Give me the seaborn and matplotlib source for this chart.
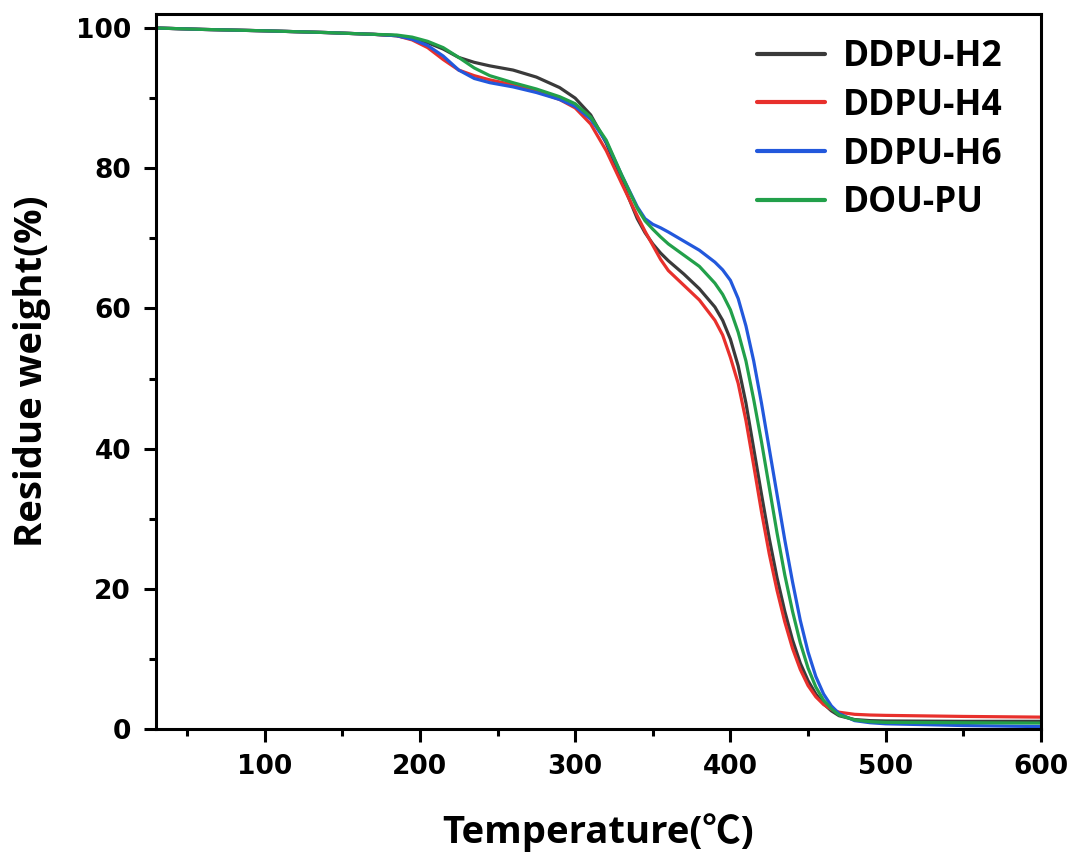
import numpy as np
import pandas as pd
import matplotlib
matplotlib.use("Agg")
import matplotlib.pyplot as plt
import seaborn as sns
from matplotlib.ticker import MultipleLocator

# Temperature grid (deg C) and residue weight (%)
temps = [30, 60, 100, 140, 170, 185, 195, 205, 215, 225, 235, 245, 260, 275,
         290, 300, 310, 320, 330, 340, 345, 350, 355, 360, 370, 380, 390, 395,
         400, 405, 410, 415, 420, 425, 430, 435, 440, 445, 450, 455, 460, 465,
         470, 480, 490, 500, 550, 600]

ddpu_h2 = [100, 99.8, 99.6, 99.35, 99.1, 98.9, 98.5, 97.9, 97.0, 95.8, 95.1,
           94.6, 94.0, 93.0, 91.5, 90.0, 87.6, 83.6, 78.2, 72.8, 70.8, 69.2,
           67.9, 66.8, 64.9, 62.8, 60.2, 58.3, 55.6, 51.8, 46.5, 40.0, 33.5,
           27.2, 21.6, 16.8, 12.7, 9.4, 6.9, 5.0, 3.6, 2.6, 1.9, 1.35, 1.2,
           1.15, 1.1, 1.1]

ddpu_h4 = [100, 99.8, 99.6, 99.35, 99.1, 98.9, 98.3, 97.2, 95.5, 94.0, 93.2,
           92.6, 91.9, 91.0, 89.8, 88.6, 86.3, 82.5, 77.8, 73.2, 71.0, 69.0,
           67.0, 65.4, 63.3, 61.2, 58.3, 56.2, 53.0, 49.3, 44.0, 37.6, 31.0,
           25.0, 19.8, 15.3, 11.5, 8.5, 6.2, 4.6, 3.5, 2.8, 2.4, 2.1, 2.0,
           1.95, 1.8, 1.7]

ddpu_h6 = [100, 99.8, 99.6, 99.35, 99.1, 98.9, 98.4, 97.5, 96.0, 94.0, 92.8,
           92.2, 91.6, 90.8, 89.8, 88.8, 87.0, 83.8, 79.0, 74.5, 72.8, 72.0,
           71.5, 70.9, 69.6, 68.3, 66.6, 65.5, 64.0, 61.4, 57.5, 52.5, 46.5,
           40.0, 33.5, 27.0, 21.0, 15.5, 11.0, 7.5, 5.0, 3.3, 2.2, 1.2, 0.9,
           0.75, 0.5, 0.35]

dou_pu = [100, 99.8, 99.6, 99.35, 99.1, 99.0, 98.7, 98.1, 97.2, 95.8, 94.3,
          93.2, 92.2, 91.3, 90.2, 89.2, 87.3, 84.0, 79.0, 74.3, 72.5, 71.3,
          70.2, 69.2, 67.6, 66.0, 63.6, 62.0, 59.8, 56.6, 52.5, 47.0, 41.0,
          34.5, 28.0, 22.0, 16.8, 12.3, 8.7, 6.0, 4.1, 2.9, 2.0, 1.3, 1.05,
          0.95, 0.9, 0.85]

samples = ["DDPU-H2", "DDPU-H4", "DDPU-H6", "DOU-PU"]
colors = ["#3a3a3a", "#e8302c", "#2258dc", "#22a04a"]

frames = []
for name, vals in zip(samples, [ddpu_h2, ddpu_h4, ddpu_h6, dou_pu]):
    frames.append(pd.DataFrame({"temp": temps, "weight": vals, "sample": name}))
df = pd.concat(frames, ignore_index=True)

sns.set_theme(style="ticks")
plt.rcParams["font.family"] = ["DejaVu Sans"]
plt.rcParams["text.color"] = "black"
plt.rcParams["axes.labelcolor"] = "black"
plt.rcParams["xtick.color"] = "black"
plt.rcParams["ytick.color"] = "black"

fig = plt.figure(figsize=(10.73, 8.58), dpi=100)
ax = fig.add_axes([0.1454, 0.1503, 0.8247, 0.8334])

sns.lineplot(data=df, x="temp", y="weight", hue="sample", palette=colors,
             hue_order=samples, estimator=None, sort=False, linewidth=2.3, ax=ax)

ax.set_xlim(30, 600)
ax.set_ylim(0, 102)
ax.xaxis.set_minor_locator(MultipleLocator(50))
ax.yaxis.set_major_locator(MultipleLocator(20))
ax.yaxis.set_minor_locator(MultipleLocator(10))
ax.set_xticks([100, 200, 300, 400, 500, 600])

for sp in ax.spines.values():
    sp.set_linewidth(2.2)
    sp.set_color("black")
ax.tick_params(which="major", direction="out", length=9, width=2.2, color="black",
               labelsize=19, labelcolor="black", pad=9)
ax.tick_params(which="minor", direction="out", length=5, width=2.2, color="black")
for lab in ax.get_xticklabels() + ax.get_yticklabels():
    lab.set_fontweight("bold")

label_font = {"family": ["Open Sans", "Noto Sans CJK SC", "DejaVu Sans"],
              "weight": "bold", "size": 27.5, "color": "black"}
ax.set_xlabel("Temperature(℃)", fontdict=label_font, labelpad=24)
ax.set_ylabel("Residue weight(%)", fontdict=label_font, labelpad=18)

leg = ax.legend(loc="upper left", bbox_to_anchor=(0.679, 0.965), frameon=False,
                handlelength=1.92, handletextpad=0.5, labelspacing=0.36,
                borderaxespad=0, borderpad=0,
                prop={"family": ["Open Sans", "DejaVu Sans"], "weight": "bold", "size": 25.5})
for line in leg.get_lines():
    line.set_linewidth(3)

fig.savefig("out.png", dpi=100)
